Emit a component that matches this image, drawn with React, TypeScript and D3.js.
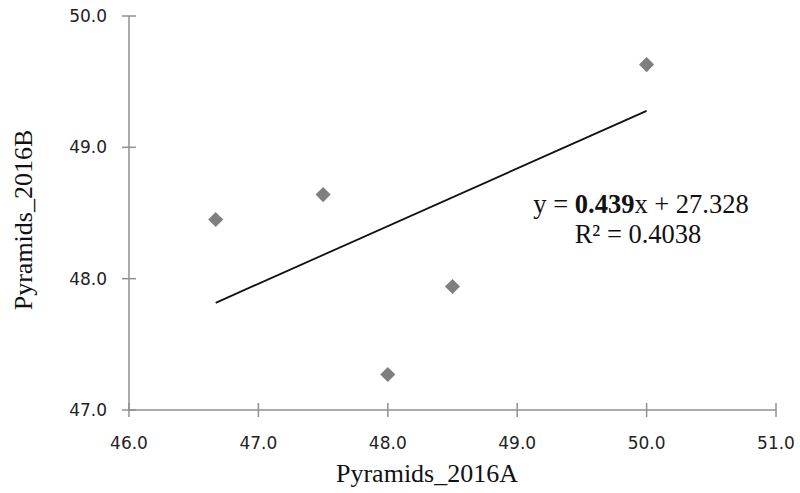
import React, { useMemo } from "react";
import * as d3 from "d3";

const WIDTH = 800;
const HEIGHT = 493;

// Pyramids_2016A vs Pyramids_2016B
const xValues = [46.67, 47.5, 48.0, 48.5, 50.0];
const yValues = [48.45, 48.64, 47.27, 47.94, 49.63];

const xTicks = [46, 47, 48, 49, 50, 51];
const yTicks = [47, 48, 49, 50];

// trendline as printed on the chart
const slope = 0.439;
const intercept = 27.328;
const rSquared = "0.4038";

const margin = { top: 16, right: 24, bottom: 83, left: 129 };

export default function App() {
  const x = useMemo(
    () => d3.scaleLinear().domain([46, 51]).range([margin.left, WIDTH - margin.right]),
    []
  );
  const y = useMemo(
    () => d3.scaleLinear().domain([47, 50]).range([HEIGHT - margin.bottom, margin.top]),
    []
  );

  const x0 = d3.min(xValues)!;
  const x1 = d3.max(xValues)!;
  const trend = d3.line<number>()
    .x((d) => x(d))
    .y((d) => y(slope * d + intercept))([x0, x1]);

  const diamond = d3.symbol(d3.symbolDiamond2, 145)()!;
  const axisColor = "#8e9196";
  const tickFont = "DejaVu Sans, sans-serif";
  const serif = "Liberation Serif, Times New Roman, serif";

  return (
    <svg
      width={WIDTH}
      height={HEIGHT}
      style={{ position: "absolute", left: 0, top: 0, background: "#fff" }}
    >
      {/* y axis */}
      <line x1={x(46)} x2={x(46)} y1={y(50)} y2={y(47)} stroke={axisColor} strokeWidth={1.5} />
      {yTicks.map((t) => (
        <g key={"y" + t}>
          <line x1={x(46) - 7} x2={x(46) + 7} y1={y(t)} y2={y(t)} stroke={axisColor} strokeWidth={1.5} />
          <text
            x={107}
            y={y(t)}
            dy="0.36em"
            textAnchor="end"
            fontFamily={tickFont}
            fontSize={17}
            fill="#222"
          >
            {t.toFixed(1)}
          </text>
        </g>
      ))}

      {/* x axis */}
      <line x1={x(46)} x2={x(51)} y1={y(47)} y2={y(47)} stroke={axisColor} strokeWidth={1.5} />
      {xTicks.map((t) => (
        <g key={"x" + t}>
          <line x1={x(t)} x2={x(t)} y1={y(47) - 7} y2={y(47) + 7} stroke={axisColor} strokeWidth={1.5} />
          <text
            x={x(t)}
            y={449}
            textAnchor="middle"
            fontFamily={tickFont}
            fontSize={17}
            fill="#222"
          >
            {t.toFixed(1)}
          </text>
        </g>
      ))}

      {/* points */}
      {xValues.map((v, i) => (
        <path
          key={i}
          d={diamond}
          transform={`translate(${x(v)},${y(yValues[i])})`}
          fill="#7f7f7f"
        />
      ))}

      {/* trendline */}
      <path d={trend ?? ""} fill="none" stroke="#111" strokeWidth={1.8} />

      {/* equation */}
      <text x={641} y={213} textAnchor="middle" fontFamily={serif} fontSize={26.5} fill="#111">
        y = <tspan fontWeight="bold">{slope.toFixed(3)}</tspan>x + {intercept.toFixed(3)}
      </text>
      <text x={638} y={243} textAnchor="middle" fontFamily={serif} fontSize={26.5} fill="#111">
        R² = {rSquared}
      </text>

      {/* axis titles */}
      <text x={427} y={482} textAnchor="middle" fontFamily={serif} fontSize={26} fill="#111">
        Pyramids_2016A
      </text>
      <text
        transform={`translate(32,220) rotate(-90)`}
        textAnchor="middle"
        fontFamily={serif}
        fontSize={26}
        fill="#111"
      >
        Pyramids_2016B
      </text>
    </svg>
  );
}
